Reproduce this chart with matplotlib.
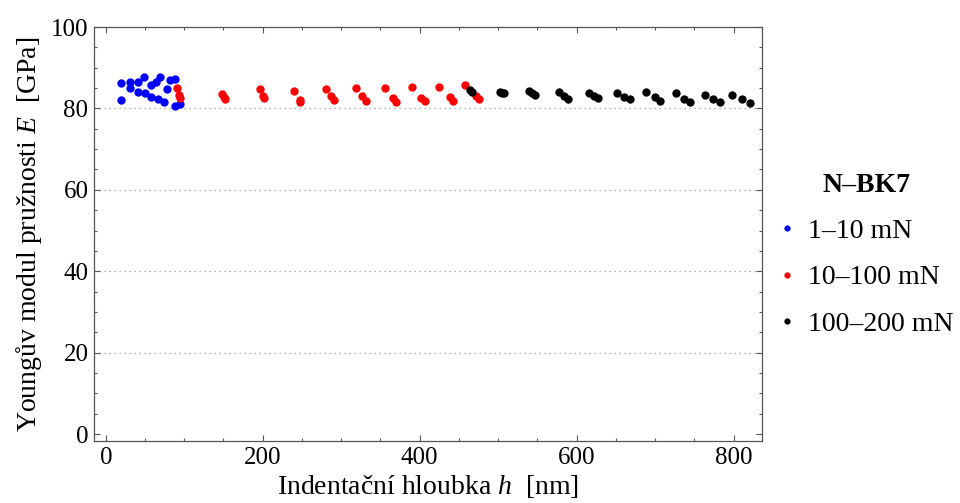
import matplotlib
matplotlib.use('Agg')
import matplotlib.pyplot as plt
from matplotlib.ticker import MultipleLocator

plt.rcParams['font.family'] = 'Liberation Serif'
plt.rcParams['mathtext.fontset'] = 'custom'
plt.rcParams['mathtext.rm'] = 'Liberation Serif'
plt.rcParams['mathtext.it'] = 'Liberation Serif:italic'

# indentation depth h [nm] and Young's modulus E [GPa] for each load range
h_low = [20.0, 20.0, 30.6, 30.6, 41.1, 41.1, 48.4, 49.7, 57.3, 58.2,
         64.6, 66.6, 69.7, 73.9, 78.1, 82.4, 88.3, 87.9, 94.3]
E_low = [86.2, 82.1, 86.6, 84.9, 86.6, 84.1, 87.6, 83.7, 85.8, 82.9,
         86.6, 82.3, 87.6, 81.5, 84.7, 86.9, 87.2, 80.7, 81.0]

h_mid = [91.2, 93.4, 94.0, 148.7, 150.5, 151.6, 196.2, 200.0, 201.3,
         239.9, 247.0, 248.0, 280.3, 287.5, 290.4, 318.5, 327.0, 331.2,
         355.4, 366.0, 370.3, 390.7, 402.2, 406.4, 424.6, 439.1, 442.4,
         458.2, 472.0, 475.5]
E_mid = [84.9, 83.3, 82.6, 83.5, 82.9, 82.2, 84.7, 83.0, 82.6,
         84.3, 82.0, 81.5, 84.7, 83.1, 82.1, 84.9, 83.1, 81.8,
         84.9, 82.5, 81.5, 85.3, 82.5, 81.8, 85.3, 82.7, 81.9,
         85.7, 83.0, 82.3]

h_high = [463.7, 466.0, 502.7, 505.0, 507.0, 539.2, 543.0, 546.5,
          577.5, 584.0, 588.9, 615.7, 622.0, 627.1, 651.8, 660.0, 667.5,
          687.9, 699.4, 706.6, 726.1, 736.3, 744.8, 763.1, 773.6, 782.9,
          797.8, 811.0, 821.2]
E_high = [84.5, 84.0, 84.1, 83.9, 83.7, 84.3, 83.8, 83.3,
          84.1, 83.0, 82.3, 83.7, 83.0, 82.5, 83.7, 82.9, 82.2,
          84.0, 82.7, 81.8, 83.7, 82.3, 81.7, 83.3, 82.3, 81.5,
          83.3, 82.3, 81.3]

series = [
    (h_low, E_low, '#0000ff', '1–10 mN'),
    (h_mid, E_mid, '#ff0000', '10–100 mN'),
    (h_high, E_high, '#000000', '100–200 mN'),
]

fig = plt.figure(figsize=(9.6, 5.03), dpi=100)
ax = fig.add_axes([0.0979, 0.1233, 0.6958, 0.8230])

for h, E, c, lab in series:
    ax.plot(h, E, 'o', color=c, markersize=6, markeredgewidth=0, label=lab)

ax.set_xlim(-15, 836)
ax.set_ylim(-1.7, 100)
ax.xaxis.set_major_locator(MultipleLocator(200))
ax.xaxis.set_minor_locator(MultipleLocator(50))
ax.yaxis.set_major_locator(MultipleLocator(20))
ax.yaxis.set_minor_locator(MultipleLocator(5))
ax.tick_params(which='both', direction='in', top=True, right=True,
               color='#555555', width=0.8)
ax.tick_params(which='major', length=4.5, labelsize=18, pad=4)
ax.tick_params(which='minor', length=2.3)
ax.tick_params(axis='y', which='major', pad=4)
for sp in ax.spines.values():
    sp.set_color('#555555')
    sp.set_linewidth(0.9)

for yv in [20, 40, 60, 80]:
    ax.axhline(yv, color='#999999', linestyle=(0, (1, 3)), linewidth=0.9, zorder=0)

ax.set_xlabel('Indentační hloubka $h$  [nm]', fontsize=20, labelpad=3)
ax.set_ylabel('Youngův modul pružnosti $E$  [GPa]', fontsize=20, labelpad=5)

leg = ax.legend(loc='center left', bbox_to_anchor=(1.01, 0.45), frameon=False,
                fontsize=20, title='N–BK7', markerscale=0.75,
                handlelength=0.5, handletextpad=0.5, labelspacing=0.75,
                borderaxespad=0.0, borderpad=0.4)
leg.get_title().set_fontweight('bold')
leg.get_title().set_fontsize(20)

fig.savefig('out.png', dpi=100)
